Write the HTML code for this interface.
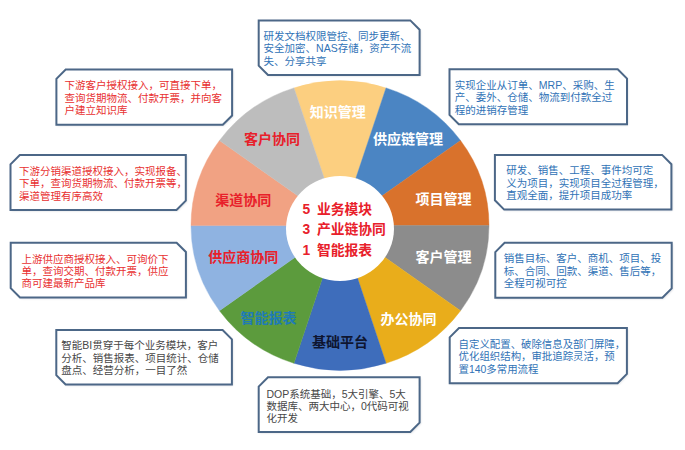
<!DOCTYPE html>
<html lang="zh-CN">
<head>
<meta charset="utf-8">
<title>5 业务模块 3 产业链协同 1 智能报表</title>
<style>
html,body{margin:0;padding:0;background:#fff;}
body{width:685px;height:450px;overflow:hidden;position:relative;font-family:"Liberation Sans","Noto Sans CJK SC",sans-serif;}
#art{position:absolute;left:0;top:0;width:685px;height:450px;display:block;}
#art text{font-family:"Liberation Sans","Noto Sans CJK SC",sans-serif;}
.lb{font-size:14px;font-weight:bold;}
.ct{font-size:13.8px;font-weight:bold;fill:#E8202A;}
.bd{font-size:10.5px;}
</style>
</head>
<body>
<svg id="art" width="685" height="450" viewBox="0 0 685 450" role="img" aria-label="业务模块轮盘图">
<defs>
<filter id="sh" x="-20%" y="-20%" width="140%" height="140%"><feGaussianBlur stdDeviation="0.9"/></filter>
</defs>
<path d="M258.7 20.4H410.3L419.6 29.7V75H268L258.7 65.7Z" transform="translate(1.0,1.0)" fill="#1a2a40" opacity="0.18" filter="url(#sh)"/>
<path d="M65.7 69.6H232.1V115.5L222.8 124.8H56.4V78.9Z" transform="translate(1.0,1.0)" fill="#1a2a40" opacity="0.18" filter="url(#sh)"/>
<path d="M19.8 155H185.8V200.6L176.5 209.9H10.5V164.3Z" transform="translate(1.0,1.0)" fill="#1a2a40" opacity="0.18" filter="url(#sh)"/>
<path d="M10.7 242.7H176.6L185.9 252V297.5H20L10.7 288.2Z" transform="translate(1.0,1.0)" fill="#1a2a40" opacity="0.18" filter="url(#sh)"/>
<path d="M56.3 330H222.6L231.9 339.3V384.5H65.6L56.3 375.2Z" transform="translate(1.0,1.0)" fill="#1a2a40" opacity="0.18" filter="url(#sh)"/>
<path d="M268 377.3H419.6V422.7L410.3 432H258.7V386.6Z" transform="translate(1.0,1.0)" fill="#1a2a40" opacity="0.18" filter="url(#sh)"/>
<path d="M449.5 69.3H617.7L627 78.6V124.2H458.8L449.5 114.9Z" transform="translate(1.0,1.0)" fill="#1a2a40" opacity="0.18" filter="url(#sh)"/>
<path d="M494.9 154.9H662.1L671.4 164.2V209.6H504.2L494.9 200.3Z" transform="translate(1.0,1.0)" fill="#1a2a40" opacity="0.18" filter="url(#sh)"/>
<path d="M504.6 242.8H671.7V288.4L662.4 297.7H495.3V252.1Z" transform="translate(1.0,1.0)" fill="#1a2a40" opacity="0.18" filter="url(#sh)"/>
<path d="M459 328.1H626.9V373.9L617.6 383.2H449.7V337.4Z" transform="translate(1.0,1.0)" fill="#1a2a40" opacity="0.18" filter="url(#sh)"/>
<path d="M258.7 20.4H410.3L419.6 29.7V75H268L258.7 65.7Z" fill="#fff" stroke="#4C6787" stroke-width="2.0" stroke-linejoin="miter"/>
<path d="M65.7 69.6H232.1V115.5L222.8 124.8H56.4V78.9Z" fill="#fff" stroke="#4C6787" stroke-width="2.0" stroke-linejoin="miter"/>
<path d="M19.8 155H185.8V200.6L176.5 209.9H10.5V164.3Z" fill="#fff" stroke="#4C6787" stroke-width="2.0" stroke-linejoin="miter"/>
<path d="M10.7 242.7H176.6L185.9 252V297.5H20L10.7 288.2Z" fill="#fff" stroke="#4C6787" stroke-width="2.0" stroke-linejoin="miter"/>
<path d="M56.3 330H222.6L231.9 339.3V384.5H65.6L56.3 375.2Z" fill="#fff" stroke="#4C6787" stroke-width="2.0" stroke-linejoin="miter"/>
<path d="M268 377.3H419.6V422.7L410.3 432H258.7V386.6Z" fill="#fff" stroke="#4C6787" stroke-width="2.0" stroke-linejoin="miter"/>
<path d="M449.5 69.3H617.7L627 78.6V124.2H458.8L449.5 114.9Z" fill="#fff" stroke="#4C6787" stroke-width="2.0" stroke-linejoin="miter"/>
<path d="M494.9 154.9H662.1L671.4 164.2V209.6H504.2L494.9 200.3Z" fill="#fff" stroke="#4C6787" stroke-width="2.0" stroke-linejoin="miter"/>
<path d="M504.6 242.8H671.7V288.4L662.4 297.7H495.3V252.1Z" fill="#fff" stroke="#4C6787" stroke-width="2.0" stroke-linejoin="miter"/>
<path d="M459 328.1H626.9V373.9L617.6 383.2H449.7V337.4Z" fill="#fff" stroke="#4C6787" stroke-width="2.0" stroke-linejoin="miter"/>
<path d="M340 225.6L386.04 87.89A149 144.8 0 0 0 293.96 87.89Z" fill="#FCCF80" stroke="#FCCF80" stroke-width="0.4"/>
<path d="M340 225.6L460.54 140.49A149 144.8 0 0 0 386.04 87.89Z" fill="#4B85C3" stroke="#4B85C3" stroke-width="0.4"/>
<path d="M340 225.6L489 225.6A149 144.8 0 0 0 460.54 140.49Z" fill="#D9722C" stroke="#D9722C" stroke-width="0.4"/>
<path d="M340 225.6L460.54 310.71A149 144.8 0 0 0 489 225.6Z" fill="#8C8C8C" stroke="#8C8C8C" stroke-width="0.4"/>
<path d="M340 225.6L386.04 363.31A149 144.8 0 0 0 460.54 310.71Z" fill="#E9AD1B" stroke="#E9AD1B" stroke-width="0.4"/>
<path d="M340 225.6L293.96 363.31A149 144.8 0 0 0 386.04 363.31Z" fill="#3E6DBB" stroke="#3E6DBB" stroke-width="0.4"/>
<path d="M340 225.6L219.46 310.71A149 144.8 0 0 0 293.96 363.31Z" fill="#5C9B3D" stroke="#5C9B3D" stroke-width="0.4"/>
<path d="M340 225.6L191 225.6A149 144.8 0 0 0 219.46 310.71Z" fill="#8FB3E1" stroke="#8FB3E1" stroke-width="0.4"/>
<path d="M340 225.6L219.46 140.49A149 144.8 0 0 0 191 225.6Z" fill="#F1A283" stroke="#F1A283" stroke-width="0.4"/>
<path d="M340 225.6L293.96 87.89A149 144.8 0 0 0 219.46 140.49Z" fill="#BDBDBD" stroke="#BDBDBD" stroke-width="0.4"/>
<ellipse cx="340.0" cy="228.5" rx="54.0" ry="52.5" fill="#fff"/>
<text class="lb" x="309.8" y="117.34" fill="#fff">知识管理</text>
<text class="lb" x="373.1" y="144.44" fill="#fff">供应链管理</text>
<text class="lb" x="415.6" y="204.04" fill="#fff">项目管理</text>
<text class="lb" x="415.6" y="261.54" fill="#fff">客户管理</text>
<text class="lb" x="380.6" y="324.34" fill="#fff">办公协同</text>
<text class="lb" x="312" y="347.04" fill="#0E1530">基础平台</text>
<text class="lb" x="240.5" y="323.04" fill="#1F7BB6">智能报表</text>
<text class="lb" x="208.2" y="261.84" fill="#E8202A">供应商协同</text>
<text class="lb" x="215.3" y="204.84" fill="#E8202A">渠道协同</text>
<text class="lb" x="244" y="143.74" fill="#E8202A">客户协同</text>
<text class="ct" x="302.5" y="214" font-size="15">5</text>
<text class="ct" x="316.9" y="214">业务模块</text>
<text class="ct" x="302.5" y="234.3" font-size="15">3</text>
<text class="ct" x="316.9" y="234.3">产业链协同</text>
<text class="ct" x="302.5" y="255" font-size="15">1</text>
<text class="ct" x="316.9" y="255">智能报表</text>
<text class="bd" x="263.6" y="39.99" fill="#3072B6">研发文档权限管控、同步更新、</text>
<text class="bd" x="263.6" y="52.44" fill="#3072B6">安全加密、NAS存储，资产不流</text>
<text class="bd" x="263.6" y="64.89" fill="#3072B6">失、分享共享</text>
<text class="bd" x="64.5" y="89.29" fill="#E83030">下游客户授权接入，可直接下单，</text>
<text class="bd" x="64.5" y="101.79" fill="#E83030">查询货期物流、付款开票，并向客</text>
<text class="bd" x="64.5" y="114.29" fill="#E83030">户建立知识库</text>
<text class="bd" x="18.9" y="174.99" fill="#E83030">下游分销渠道授权接入，实现报备、</text>
<text class="bd" x="18.9" y="187.34" fill="#E83030">下单，查询货期物流、付款开票等，</text>
<text class="bd" x="18.9" y="199.69" fill="#E83030">渠道管理有序高效</text>
<text class="bd" x="21.6" y="262.69" fill="#E83030">上游供应商授权接入、可询价下</text>
<text class="bd" x="21.6" y="274.99" fill="#E83030">单，查询交期、付款开票，供应</text>
<text class="bd" x="21.6" y="287.29" fill="#E83030">商可建最新产品库</text>
<text class="bd" x="61.3" y="349.29" fill="#474747">智能BI贯穿于每个业务模块，客户</text>
<text class="bd" x="61.3" y="361.79" fill="#474747">分析、销售报表、项目统计、仓储</text>
<text class="bd" x="61.3" y="374.29" fill="#474747">盘点、经营分析，一目了然</text>
<text class="bd" x="266.4" y="397.59" fill="#474747">DOP系统基础，5大引擎、5大</text>
<text class="bd" x="266.4" y="410.04" fill="#474747">数据库、两大中心，0代码可视</text>
<text class="bd" x="266.4" y="422.49" fill="#474747">化开发</text>
<text class="bd" x="454.8" y="89.09" fill="#3072B6">实现企业从订单、MRP、采购、生</text>
<text class="bd" x="454.8" y="101.39" fill="#3072B6">产、委外、仓储、物流到付款全过</text>
<text class="bd" x="454.8" y="113.69" fill="#3072B6">程的进销存管理</text>
<text class="bd" x="506.3" y="174.39" fill="#3072B6">研发、销售、工程、事件均可定</text>
<text class="bd" x="506.3" y="186.64" fill="#3072B6">义为项目，实现项目全过程管理，</text>
<text class="bd" x="506.3" y="198.89" fill="#3072B6">直观全面，提升项目成功率</text>
<text class="bd" x="503.8" y="262.49" fill="#3072B6">销售目标、客户、商机、项目、投</text>
<text class="bd" x="503.8" y="274.89" fill="#3072B6">标、合同、回款、渠道、售后等，</text>
<text class="bd" x="503.8" y="287.29" fill="#3072B6">全程可视可控</text>
<text class="bd" x="458.6" y="347.56" fill="#3072B6" style="font-size:10.42px">自定义配置、破除信息及部门屏障，</text>
<text class="bd" x="458.6" y="360.16" fill="#3072B6" style="font-size:10.42px">优化组织结构，审批追踪灵活，预</text>
<text class="bd" x="458.6" y="372.76" fill="#3072B6" style="font-size:10.42px">置140多常用流程</text>
</svg>
</body>
</html>
